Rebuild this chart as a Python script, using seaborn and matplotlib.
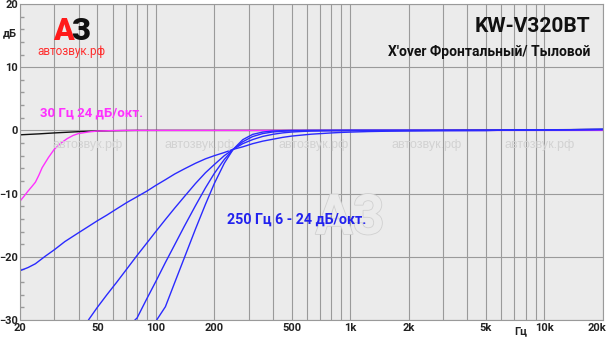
import numpy as np
import pandas as pd
import matplotlib
matplotlib.use("Agg")
import matplotlib.pyplot as plt
import matplotlib.patheffects as pe
from matplotlib.transforms import ScaledTranslation
import seaborn as sns
from matplotlib.ticker import FixedLocator, NullFormatter

sns.set_theme(style="white")
plt.rcParams['font.family'] = ['Roboto', 'DejaVu Sans']

# ---- data ----
black_f = [20, 25, 30, 40, 50, 60, 80, 100, 200, 500, 1000, 2000, 5000, 10000, 20000]
black_db = [-0.7, -0.55, -0.4, -0.2, -0.1, -0.05, 0.0, 0.0, 0.0, 0.0, 0.0, 0.0, 0.05, 0.1, 0.15]

mag_f = [20, 21, 22, 23, 24, 25, 26, 28, 30, 32.5, 35, 37.5, 40, 45, 50, 60, 70,
         100, 200, 500, 1000, 5000, 20000]
mag_db = [-11.2, -10.4, -9.6, -8.9, -8.2, -7.1, -5.9, -4.3, -3.0, -2.0, -1.3, -0.8, -0.5,
          -0.25, -0.1, -0.03, 0.0, 0.0, 0.0, 0.0, 0.0, 0.0, 0.0]

hp6_f = [20, 22, 24, 27, 30, 34, 40, 45, 50, 56, 63, 71, 80, 90, 100, 112, 125, 140, 160,
         180, 200, 225, 250, 280, 315, 355, 400, 450, 500, 560, 630, 710, 800, 900, 1000,
         1250, 1600, 2000, 3000, 5000, 10000, 15000, 20000]
hp6_db = [-22.2, -21.7, -21.1, -19.9, -18.9, -17.6, -16.2, -15.2, -14.3, -13.4, -12.4,
          -11.4, -10.5, -9.6, -8.7, -7.8, -6.9, -6.1, -5.2, -4.5, -4.0, -3.5, -3.0, -2.6,
          -2.1, -1.7, -1.4, -1.1, -0.9, -0.75, -0.6, -0.5, -0.4, -0.32, -0.27, -0.18,
          -0.12, -0.08, -0.03, 0.0, 0.08, 0.12, 0.15]

hp12_f = [45, 50, 56, 63, 71, 80, 90, 100, 112, 125, 140, 160, 180, 200, 225, 250, 280,
          315, 355, 400, 450, 500, 560, 630, 710, 800, 1000, 2000, 5000, 10000, 15000, 20000]
hp12_db = [-30.0, -28.0, -26.0, -24.0, -21.9, -19.8, -17.8, -16.0, -14.1, -12.3, -10.5,
           -8.4, -6.7, -5.4, -4.0, -3.0, -2.1, -1.45, -0.95, -0.62, -0.39, -0.26, -0.17,
           -0.1, -0.07, -0.04, -0.02, 0.0, 0.0, 0.08, 0.12, 0.15]

hp18_f = [78, 80, 90, 100, 112, 125, 140, 160, 180, 200, 225, 250, 280, 315, 355, 400,
          450, 500, 630, 1000, 2000, 5000, 10000, 15000, 20000]
hp18_db = [-30.0, -29.7, -26.6, -23.9, -20.9, -18.1, -15.2, -11.9, -9.1, -6.8, -4.6,
           -3.0, -1.8, -0.97, -0.5, -0.25, -0.13, -0.07, -0.02, 0.0, 0.0, 0.0, 0.08, 0.12, 0.15]

hp24_f = [101, 112, 125, 140, 160, 180, 200, 225, 250, 280, 315, 355, 400, 450, 500,
          1000, 2000, 5000, 10000, 15000, 20000]
hp24_db = [-30.0, -27.9, -24.1, -20.2, -15.6, -11.7, -8.4, -5.2, -3.0, -1.47, -0.63,
           -0.26, -0.1, -0.04, -0.01, 0.0, 0.0, 0.0, 0.08, 0.12, 0.15]

y_ticks = [20, 10, 0, -10, -20, -30]
x_ticks = [20, 50, 100, 200, 500, 1000, 2000, 5000, 10000, 20000]
x_labels = ["20", "50", "100", "200", "500", "1k", "2k", "5k", "10k", "20k"]

title = "KW-V320BT"
subtitle = "X'over Фронтальный/ Тыловой"
mag_label = "30 Гц 24 дБ/окт."
blue_label = "250 Гц 6 - 24 дБ/окт."

# ---- figure ----
fig = plt.figure(figsize=(6.10, 3.37), dpi=100)
fig.patch.set_facecolor("white")
ax = fig.add_axes([20/610, 1-320/337, 583/610, 316/337])
ax.set_facecolor("#ebebeb")

ax.set_xscale("log")
ax.set_xlim(20, 20000)
ax.set_ylim(-30, 20)

minor = []
for dec in [10, 100, 1000, 10000]:
    for m in range(2, 10):
        v = dec * m
        if 20 <= v <= 20000:
            minor.append(v)
ax.xaxis.set_major_locator(FixedLocator(x_ticks))
ax.xaxis.set_minor_locator(FixedLocator(minor))
ax.xaxis.set_minor_formatter(NullFormatter())
ax.set_xticklabels(x_labels)
ax.set_yticks(y_ticks)
ax.set_yticks(np.arange(-30, 21, 2), minor=True)
ax.grid(which="both", axis="x", color="#9a9a9a", lw=0.8)
ax.grid(which="major", axis="y", color="#9a9a9a", lw=0.8)
ax.tick_params(axis="x", which="both", length=0, pad=2.5, labelsize=8)
ax.tick_params(axis="y", which="major", length=0, pad=1.5, labelsize=8)
ax.tick_params(axis="y", which="minor", length=3, direction="in", color="#9a9a9a", left=True)
for lab in ax.get_xticklabels() + ax.get_yticklabels():
    lab.set_fontweight("bold")
    lab.set_color("#222222")
last = ax.get_xticklabels()[-1]
last.set_transform(last.get_transform() + ScaledTranslation(-6/100, 0, fig.dpi_scale_trans))
for s in ax.spines.values():
    s.set_color("#9a9a9a")
    s.set_linewidth(0.8)

# watermarks
wm_x = [88, 200, 314, 427, 540]
for px in wm_x:
    fig.text(px/610, 1-145/337, "автозвук.рф", color="#d2d2d2", fontsize=9,
             ha="center", va="center", family=["Liberation Sans", "DejaVu Sans"])
fig.text(350/610, 1-219/337, "А3", color="#ebebeb", fontsize=40, fontweight="bold",
         ha="center", va="center",
         path_effects=[pe.withStroke(linewidth=1.2, foreground="#d0d0d0")])

# curves
def draw(fr, db, color):
    df = pd.DataFrame({"f": fr, "db": db})
    sns.lineplot(data=df, x="f", y="db", ax=ax, color=color, lw=1.0,
                 estimator=None, sort=False)

draw(black_f, black_db, "#111111")
draw(mag_f, mag_db, "#ff30ff")
for fr, d in [(hp6_f, hp6_db), (hp12_f, hp12_db), (hp18_f, hp18_db), (hp24_f, hp24_db)]:
    draw(fr, d, "#2a2aff")

ax.set_xlabel("")
ax.set_ylabel("")

# texts
fig.text(3/610, 1-33/337, "дБ", fontsize=8, fontweight="bold", ha="left", va="center", color="#222222")
fig.text(521/610, 1-331/337, "Гц", fontsize=8, fontweight="bold", ha="center", va="center", color="#222222")
fig.text(590/610, 1-26/337, title, fontsize=15, fontweight="bold", ha="right", va="center", color="#111111")
fig.text(590/610, 1-52/337, subtitle, fontsize=10, fontweight="bold", ha="right", va="center", color="#111111")
fig.text(40/610, 1-113/337, mag_label, fontsize=9.5, fontweight="bold", ha="left", va="center", color="#ff30ff")
fig.text(227/610, 1-220/337, blue_label, fontsize=10.3, fontweight="bold", ha="left", va="center", color="#2222ee")

# logo
fig.text(53/610, 1-31/337, "А", fontsize=22, fontweight="black", ha="left", va="center", color="#ff1a1a")
fig.text(71/610, 1-31/337, "З", fontsize=22, fontweight="black", ha="left", va="center", color="#111111")
fig.text(37/610, 1-52/337, "автозвук.рф", fontsize=8.5, ha="left", va="center", color="#ff3030")

fig.savefig("out.png", dpi=100)
